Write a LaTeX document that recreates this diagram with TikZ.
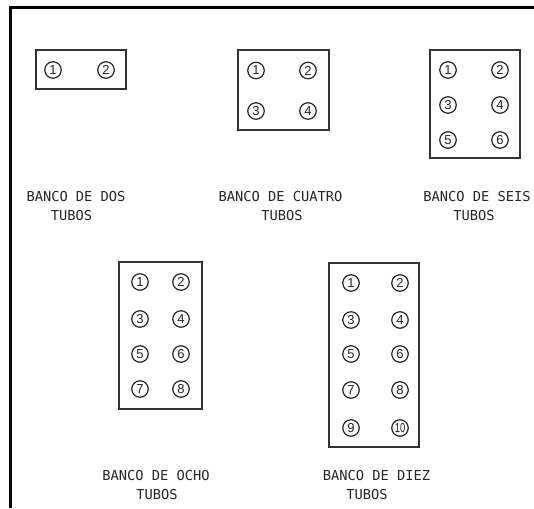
\documentclass[tikz,border=0pt]{standalone}
\usepackage{fontspec}
\newfontfamily\labfont{DejaVu Sans Mono}
\newfontfamily\numfont{Liberation Sans}
\begin{document}
\begin{tikzpicture}[x=1pt,y=-1pt,
  tube/.style={circle,draw=black!85,line width=1.2pt,minimum size=16.5pt,inner sep=0pt,
    font=\numfont\fontsize{13}{13}\selectfont,text=black!85},
  bank/.style={draw=black!80,line width=1.6pt,inner sep=0pt},
  lab/.style={font=\labfont\fontsize{13.7}{14}\selectfont,inner sep=0pt,text=black!85}]
\useasboundingbox[fill=white] (0,0) rectangle (534,508);
\draw[line width=2.6pt] (534,7.8) -- (10.5,7.8) -- (10.5,508);

% bank of two
\node[bank,minimum width=90pt,minimum height=39pt] (b2) at (81,69.5) {};
\foreach \n/\x/\y in {1/53/70,2/106/70}
  \node[tube] (b2t\n) at (\x,\y) {\n};
\node[lab] (b2l1) at (76,197) {BANCO DE DOS};
\node[lab] (b2l2) at (71.5,216) {TUBOS};

% bank of four
\node[bank,minimum width=91pt,minimum height=80pt] (b4) at (283.5,90) {};
\foreach \n/\x/\y in {1/256/70.5,2/308/70.5,3/256/111,4/308/111}
  \node[tube] (b4t\n) at (\x,\y) {\n};
\node[lab] (b4l1) at (280.6,197) {BANCO DE CUATRO};
\node[lab] (b4l2) at (282,216) {TUBOS};

% bank of six
\node[bank,minimum width=90pt,minimum height=108pt] (b6) at (475,104) {};
\foreach \n/\x/\y in {1/448/70,2/500/70,3/448/105,4/500/105,5/448/140,6/500/140}
  \node[tube] (b6t\n) at (\x,\y) {\n};
\node[lab] (b6l1) at (477,197) {BANCO DE SEIS};
\node[lab] (b6l2) at (474,216) {TUBOS};

% bank of eight
\node[bank,minimum width=83pt,minimum height=147pt] (b8) at (160.5,335.5) {};
\foreach \n/\x/\y in {1/140/282,2/181/282,3/140/319,4/181/319,5/140/354,6/181/354,7/140/389,8/181/389}
  \node[tube] (b8t\n) at (\x,\y) {\n};
\node[lab] (b8l1) at (156,476) {BANCO DE OCHO};
\node[lab] (b8l2) at (157,494.5) {TUBOS};

% bank of ten
\node[bank,minimum width=90pt,minimum height=184pt] (b10) at (374,355) {};
\foreach \n/\x/\y in {1/351/283,2/400/283,3/351/320,4/400/320,5/351/354,6/400/354,7/351/390,8/400/390,9/351/428}
  \node[tube] (b10t\n) at (\x,\y) {\n};
\node[tube] (b10t10) at (400,428) {\scalebox{0.72}[1]{10}};
\node[lab] (b10l1) at (376.5,476) {BANCO DE DIEZ};
\node[lab] (b10l2) at (367,494.5) {TUBOS};
\end{tikzpicture}
\end{document}
